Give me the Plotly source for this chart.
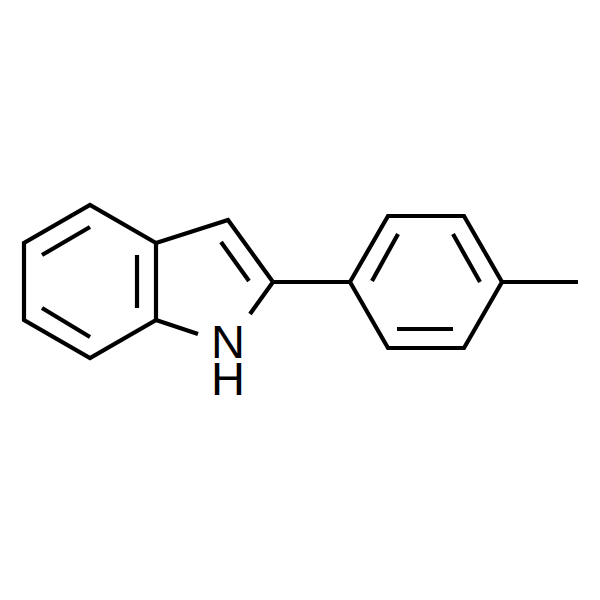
import plotly.graph_objects as go

# Skeletal formula, one polyline per stroke (picture coordinates)
outer_x = [156, 90, 24, 24, 90, 156, 156, None, 156, 228, 273, 250, None, 156, 198, None,
           273, 350, 388, 464, 502, 464, 388, 350, None, 502, 578]
outer_y = [243, 205, 243, 320, 358, 320, 243, None, 243, 220, 282, 314, None, 320, 334, None,
           282, 282, 216, 216, 282, 348, 348, 282, None, 282, 282]
inner_x = [90, 42, None, 137, 137, None, 42, 90, None, 221, 249, None,
           398, 372, None, 453, 480, None, 397, 453]
inner_y = [227, 255, None, 255, 308, None, 308, 337, None, 242, 281, None,
           234, 281, None, 234, 282, None, 329, 329]
atom_x = [228, 228]
atom_y = [346.5, 383.5]
atom_labels = ["N", "H"]

fig = go.Figure()
fig.add_trace(go.Scatter(x=outer_x, y=outer_y, mode="lines",
                         line=dict(color="#000000", width=4.2), hoverinfo="skip"))
fig.add_trace(go.Scatter(x=inner_x, y=inner_y, mode="lines",
                         line=dict(color="#000000", width=4.2), hoverinfo="skip"))
fig.add_trace(go.Scatter(x=atom_x, y=atom_y, mode="text", text=atom_labels,
                         textposition="middle center",
                         textfont=dict(family="Liberation Sans", size=47, color="#000000"),
                         hoverinfo="skip"))
# The page's 8 px body margin offsets the figure, so the ranges start at 8.
fig.update_layout(
    width=600, height=600, autosize=False,
    margin=dict(l=0, r=0, t=0, b=0),
    paper_bgcolor="#ffffff", plot_bgcolor="#ffffff",
    showlegend=False,
    xaxis=dict(range=[8, 608], visible=False, fixedrange=True),
    yaxis=dict(range=[608, 8], visible=False, fixedrange=True),
)
fig.write_html("out.html", config={"displayModeBar": False})
